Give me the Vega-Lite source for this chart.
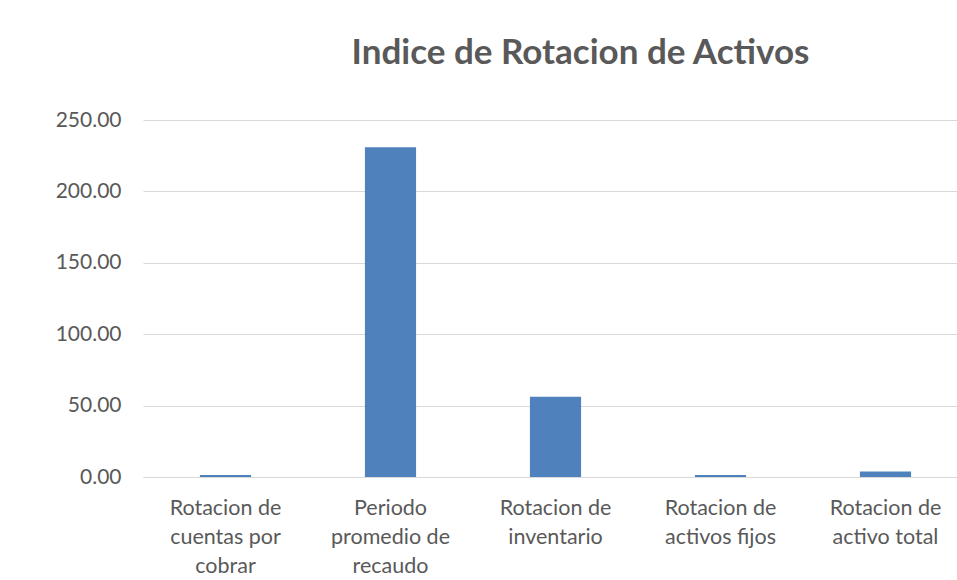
{
  "$schema": "https://vega.github.io/schema/vega-lite/v6.json",
  "width": 825,
  "height": 357,
  "autosize": {"type": "none"},
  "padding": {"left": 143, "top": 120, "right": 0, "bottom": 103},
  "background": "white",
  "title": {
    "text": "Indice de Rotacion de Activos",
    "font": "Lato",
    "fontSize": 35,
    "fontWeight": "bold",
    "color": "#595959",
    "anchor": "middle",
    "dx": 25,
    "offset": 38
  },
  "data": {
    "values": [
      {"indicador": "Rotacion de cuentas por cobrar", "valor": 1.4},
      {"indicador": "Periodo promedio de recaudo", "valor": 231.0},
      {"indicador": "Rotacion de inventario", "valor": 56.2},
      {"indicador": "Rotacion de activos fijos", "valor": 1.4},
      {"indicador": "Rotacion de activo total", "valor": 3.9}
    ]
  },
  "mark": {"type": "bar", "color": "#4f81bd"},
  "encoding": {
    "x": {
      "field": "indicador",
      "type": "nominal",
      "sort": null,
      "scale": {"paddingInner": 0.69, "paddingOuter": 0.345},
      "axis": {
        "title": null,
        "labelAngle": 0,
        "labelFont": "Lato",
        "labelFontSize": 21.5,
        "labelColor": "#595959",
        "labelLimit": 300,
        "labelLineHeight": 29,
        "labelPadding": 20,
        "labelBaseline": "top",
        "ticks": false,
        "domainColor": "#d9d9d9",
        "domainWidth": 1,
        "labelExpr": "datum.label == 'Rotacion de cuentas por cobrar' ? ['Rotacion de', 'cuentas por', 'cobrar'] : datum.label == 'Periodo promedio de recaudo' ? ['Periodo', 'promedio de', 'recaudo'] : datum.label == 'Rotacion de inventario' ? ['Rotacion de', 'inventario'] : datum.label == 'Rotacion de activos fijos' ? ['Rotacion de', 'activos fijos'] : ['Rotacion de', 'activo total']"
      }
    },
    "y": {
      "field": "valor",
      "type": "quantitative",
      "scale": {"domain": [0, 250], "nice": false},
      "axis": {
        "title": null,
        "values": [0, 50, 100, 150, 200, 250],
        "format": ".2f",
        "labelFont": "Lato",
        "labelFontSize": 21,
        "labelColor": "#595959",
        "labelPadding": 22,
        "ticks": false,
        "domain": false,
        "gridColor": "#d9d9d9",
        "gridWidth": 1
      }
    }
  },
  "config": {"view": {"stroke": null}}
}
